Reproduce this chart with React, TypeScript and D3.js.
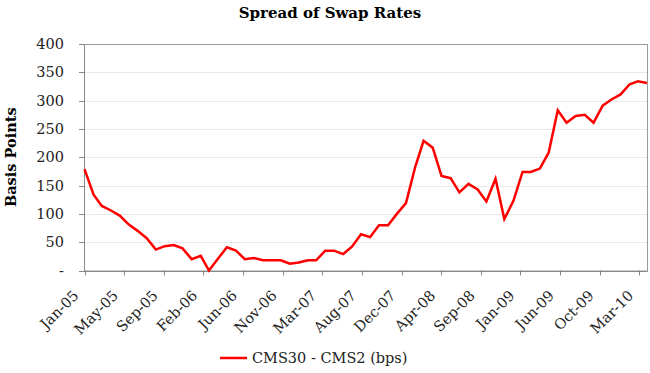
import React, { useEffect, useRef } from "react";
import * as d3 from "d3";

// monthly spread, Jan-2005 .. Apr-2010 (bps)
const startMonth = "2005-01-01";
const spreadValues = [
  179, 134, 114, 106, 97, 81, 70, 57, 37, 43, 45, 39,
  20, 26, 0, 21, 41, 35, 20, 22, 18, 18, 18, 12,
  14, 18, 18, 35, 35, 29, 42, 64, 59, 80, 80, 100,
  119, 182, 229, 217, 167, 163, 138, 153, 143, 122, 162, 91,
  123, 174, 174, 180, 208, 283, 261, 273, 275, 261, 291, 302,
  311, 329, 334, 331,
];
const seriesName = "CMS30 - CMS2 (bps)";
const xTickLabels = [
  "Jan-05", "May-05", "Sep-05", "Feb-06", "Jun-06", "Nov-06", "Mar-07", "Aug-07",
  "Dec-07", "Apr-08", "Sep-08", "Jan-09", "Jun-09", "Oct-09", "Mar-10",
];
const yTicks = [0, 50, 100, 150, 200, 250, 300, 350, 400];

export default function App() {
  const svgRef = useRef<SVGSVGElement>(null);

  useEffect(() => {
    const width = 650;
    const height = 373;
    const left = 84;
    const right = 647;
    const top = 44;
    const bottom = 270.5;
    const font = "'DejaVu Serif', serif";

    const start = new Date(startMonth + "T00:00:00Z");
    const data = spreadValues.map((v, i) => ({ date: d3.utcMonth.offset(start, i), value: v }));

    const x = d3.scaleUtc()
      .domain([start, data[data.length - 1].date])
      .range([left + 0.5, right]);
    const y = d3.scaleLinear().domain([0, 400]).range([bottom, top]);

    // axis labels sit every 135 days (Excel date-axis major unit)
    const tickDates = xTickLabels.map((_, k) => d3.utcDay.offset(start, k * 135));

    const svg = d3.select(svgRef.current)
      .attr("width", width)
      .attr("height", height)
      .attr("style", "position:absolute;left:0;top:0;background:#fff");
    svg.selectAll("*").remove();

    svg.append("text")
      .attr("x", 330)
      .attr("y", 18)
      .attr("text-anchor", "middle")
      .attr("font-family", font)
      .attr("font-weight", "bold")
      .attr("font-size", 15)
      .text("Spread of Swap Rates");

    // gridlines
    svg.append("g")
      .selectAll("line")
      .data(yTicks.slice(1))
      .join("line")
      .attr("x1", left)
      .attr("x2", right)
      .attr("y1", d => Math.round(y(d)) + 0.5)
      .attr("y2", d => Math.round(y(d)) + 0.5)
      .attr("stroke", "#e8e8e8")
      .attr("stroke-width", 1);

    // plot border
    svg.append("rect")
      .attr("x", left + 0.5)
      .attr("y", top + 0.5)
      .attr("width", right - left)
      .attr("height", bottom - top)
      .attr("fill", "none")
      .attr("stroke", "#9a9a9a");

    // y axis
    const yAxis = svg.append("g");
    yAxis.append("line")
      .attr("x1", left + 0.5).attr("x2", left + 0.5)
      .attr("y1", top).attr("y2", bottom + 1)
      .attr("stroke", "#888");
    yAxis.selectAll("line.tick")
      .data(yTicks)
      .join("line")
      .attr("class", "tick")
      .attr("x1", left - 5)
      .attr("x2", left)
      .attr("y1", d => Math.round(y(d)) + 0.5)
      .attr("y2", d => Math.round(y(d)) + 0.5)
      .attr("stroke", "#888");
    yAxis.selectAll("text")
      .data(yTicks)
      .join("text")
      .attr("x", 64)
      .attr("y", d => y(d))
      .attr("dy", "0.35em")
      .attr("text-anchor", "end")
      .attr("font-family", font)
      .attr("font-size", 14.5)
      .attr("fill", "#222")
      .text(d => (d === 0 ? "-" : d3.format("d")(d)));

    svg.append("text")
      .attr("transform", `translate(16,${(top + bottom) / 2}) rotate(-90)`)
      .attr("text-anchor", "middle")
      .attr("font-family", font)
      .attr("font-weight", "bold")
      .attr("font-size", 14.5)
      .text("Basis Points");

    // x axis
    const xAxis = svg.append("g");
    xAxis.append("line")
      .attr("x1", left).attr("x2", right + 0.5)
      .attr("y1", Math.round(bottom) + 0.5).attr("y2", Math.round(bottom) + 0.5)
      .attr("stroke", "#888");
    xAxis.selectAll("line.tick")
      .data(tickDates)
      .join("line")
      .attr("class", "tick")
      .attr("x1", d => Math.round(x(d)) + 0.5)
      .attr("x2", d => Math.round(x(d)) + 0.5)
      .attr("y1", bottom)
      .attr("y2", bottom + 5)
      .attr("stroke", "#888");
    xAxis.selectAll("text")
      .data(tickDates)
      .join("text")
      .attr("transform", d => `translate(${x(d) - 5},${bottom + 26}) rotate(-45)`)
      .attr("text-anchor", "end")
      .attr("font-family", font)
      .attr("font-size", 14.5)
      .attr("fill", "#222")
      .text((_, i) => xTickLabels[i]);

    // series
    const line = d3.line<{ date: Date; value: number }>()
      .x(d => x(d.date))
      .y(d => y(d.value));
    svg.append("path")
      .datum(data)
      .attr("d", line)
      .attr("fill", "none")
      .attr("stroke", "#ff0000")
      .attr("stroke-width", 2.5)
      .attr("stroke-linejoin", "miter");

    // legend
    const legend = svg.append("g").attr("transform", "translate(220,358)");
    legend.append("line")
      .attr("x1", 0).attr("x2", 27)
      .attr("stroke", "#ff0000")
      .attr("stroke-width", 2.5);
    legend.append("text")
      .attr("x", 32)
      .attr("dy", "0.35em")
      .attr("font-family", font)
      .attr("font-size", 14.5)
      .attr("fill", "#222")
      .text(seriesName);
  }, []);

  return <svg ref={svgRef} />;
}
